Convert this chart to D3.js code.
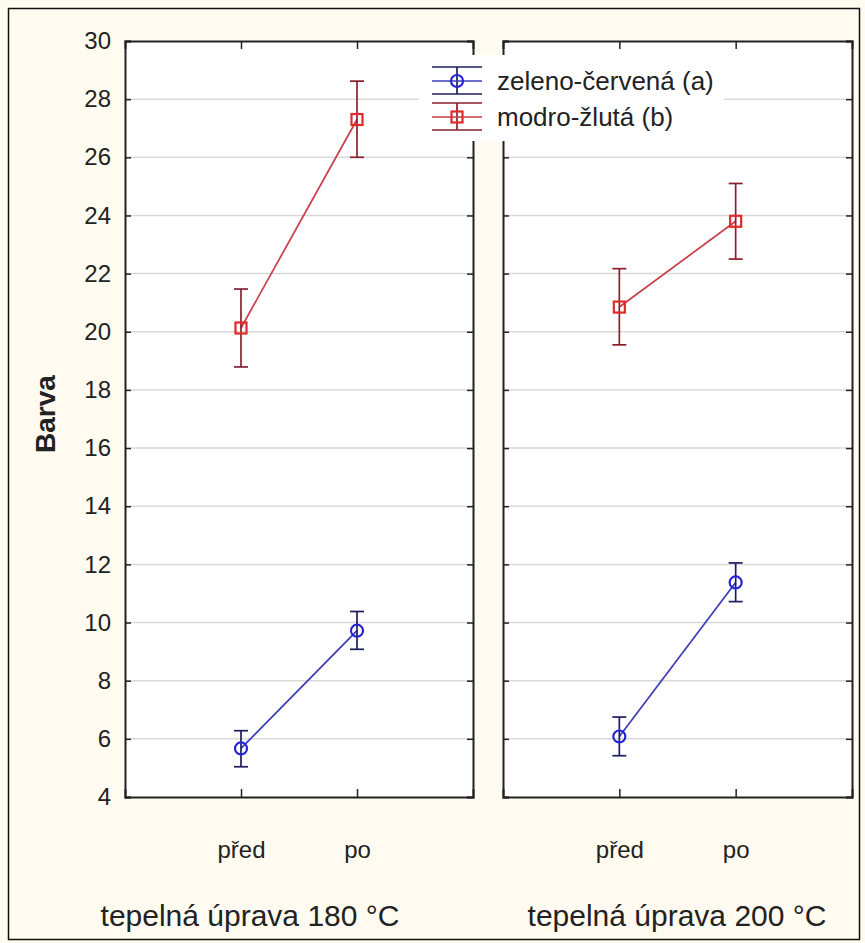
<!DOCTYPE html>
<html>
<head>
<meta charset="utf-8">
<script src="https://cdn.jsdelivr.net/npm/d3@7"></script>
<style>
  body { margin: 0; background: #fffbf0; }
  svg { display: block; }
  text { font-family: "Liberation Sans", Arial, sans-serif; fill: #222; }
</style>
</head>
<body>
<div id="chart"></div>
<script>
// Barva - mean with error bars, two panels

var categories = ["před", "po"];
var panelLabels = ["tepelná úprava 180 °C", "tepelná úprava 200 °C"];
var seriesNames = ["zeleno-červená (a)", "modro-žlutá (b)"];
var yTicks = [4, 6, 8, 10, 12, 14, 16, 18, 20, 22, 24, 26, 28, 30];

// values per panel: [před, po]
var aMean = [[5.67, 9.72], [6.08, 11.38]];
var aLow = [[5.04, 9.08], [5.42, 10.72]];
var aHigh = [[6.28, 10.38], [6.75, 12.05]];

var bMean = [[20.13, 27.3], [20.85, 23.8]];
var bLow = [[18.79, 26.0], [19.55, 22.5]];
var bHigh = [[21.47, 28.62], [22.17, 25.1]];

var svgWidth = 865;
var svgHeight = 943;
var margin = { top: 41, bottom: 146 };
var panelX = [[125, 473], [503, 852]];

var svg = d3.select("#chart")
    .append("svg")
    .attr("width", svgWidth)
    .attr("height", svgHeight);

svg.append("rect")
    .attr("x", 8.5).attr("y", 8.5)
    .attr("width", 851).attr("height", 931)
    .attr("fill", "#fffbf0")
    .attr("stroke", "#111")
    .attr("stroke-width", 1.5);

var yScale = d3.scaleLinear()
    .domain([4, 30])
    .range([svgHeight - margin.bottom, margin.top]);

var series = [
    { name: seriesNames[0], mean: aMean, low: aLow, high: aHigh, line: "#3b3bb8", mark: "#2424d8", bar: "#1d1d5e", shape: "circle" },
    { name: seriesNames[1], mean: bMean, low: bLow, high: bHigh, line: "#c93c48", mark: "#e02a2a", bar: "#8a1f2c", shape: "square" }
];

panelLabels.forEach(function(label, p) {
    var x0 = panelX[p][0], x1 = panelX[p][1];
    var xScale = d3.scalePoint()
        .domain(categories)
        .range([x0, x1])
        .padding(1);

    var g = svg.append("g");

    g.append("rect")
        .attr("x", x0).attr("y", yScale(30))
        .attr("width", x1 - x0).attr("height", yScale(4) - yScale(30))
        .attr("fill", "#fff");

    // gridlines
    g.selectAll("line.grid")
        .data(yTicks.filter(t => t > 4 && t < 30))
        .enter()
        .append("line")
        .attr("class", "grid")
        .attr("x1", x0).attr("x2", x1)
        .attr("y1", d => yScale(d)).attr("y2", d => yScale(d))
        .attr("stroke", "#d9d9d9")
        .attr("stroke-width", 1.5);

    // series lines, error bars, markers
    series.forEach(function(s) {
        var pts = categories.map(function(c, i) {
            return { c: c, m: s.mean[p][i], lo: s.low[p][i], hi: s.high[p][i] };
        });

        g.append("path")
            .datum(pts)
            .attr("fill", "none")
            .attr("stroke", s.line)
            .attr("stroke-width", 1.7)
            .attr("d", d3.line().x(d => xScale(d.c)).y(d => yScale(d.m)));

        var eb = g.append("g").selectAll("g")
            .data(pts)
            .enter()
            .append("g")
            .attr("stroke", s.bar)
            .attr("stroke-width", 1.7);
        eb.append("line")
            .attr("x1", d => xScale(d.c)).attr("x2", d => xScale(d.c))
            .attr("y1", d => yScale(d.lo)).attr("y2", d => yScale(d.hi));
        eb.append("line")
            .attr("x1", d => xScale(d.c) - 7).attr("x2", d => xScale(d.c) + 7)
            .attr("y1", d => yScale(d.lo)).attr("y2", d => yScale(d.lo));
        eb.append("line")
            .attr("x1", d => xScale(d.c) - 7).attr("x2", d => xScale(d.c) + 7)
            .attr("y1", d => yScale(d.hi)).attr("y2", d => yScale(d.hi));

        if (s.shape == "circle") {
            g.selectAll(null)
                .data(pts)
                .enter()
                .append("circle")
                .attr("cx", d => xScale(d.c))
                .attr("cy", d => yScale(d.m))
                .attr("r", 6)
                .attr("fill", "none")
                .attr("stroke", s.mark)
                .attr("stroke-width", 2.2);
        } else {
            g.selectAll(null)
                .data(pts)
                .enter()
                .append("rect")
                .attr("x", d => xScale(d.c) - 5.5)
                .attr("y", d => yScale(d.m) - 5.5)
                .attr("width", 11).attr("height", 11)
                .attr("fill", "none")
                .attr("stroke", s.mark)
                .attr("stroke-width", 2.2);
        }
    });

    // axes with inward ticks
    var left = d3.axisLeft(yScale).tickValues(yTicks).tickSize(-6).tickPadding(14);
    var right = d3.axisRight(yScale).tickValues(yTicks).tickSize(-6).tickFormat("");
    var bottom = d3.axisBottom(xScale).tickSize(-8).tickPadding(44);
    var top = d3.axisTop(xScale).tickSize(-8).tickFormat("");

    var la = g.append("g").attr("transform", `translate(${x0},0)`).call(left);
    if (p > 0) la.selectAll("text").remove();
    g.append("g").attr("transform", `translate(${x1},0)`).call(right);
    g.append("g").attr("transform", `translate(0,${yScale(4)})`).call(bottom);
    g.append("g").attr("transform", `translate(0,${yScale(30)})`).call(top);

    g.selectAll(".domain").attr("stroke", "#222").attr("stroke-width", 2);
    g.selectAll(".tick line").attr("stroke", "#222").attr("stroke-width", 1.5);
    g.selectAll(".tick text")
        .style("font-family", "'Liberation Sans', Arial, sans-serif")
        .style("font-size", "24px")
        .attr("fill", "#222");

    svg.append("text")
        .attr("x", p == 0 ? 250 : 677)
        .attr("y", 926)
        .attr("text-anchor", "middle")
        .style("font-size", "30px")
        .text(label);
});

// y axis title
svg.append("text")
    .attr("transform", "rotate(-90)")
    .attr("x", -414)
    .attr("y", 55)
    .attr("text-anchor", "middle")
    .style("font-size", "28px")
    .style("font-weight", "bold")
    .text("Barva");

// legend
var legend = svg.append("g");
legend.append("rect")
    .attr("x", 419).attr("y", 55)
    .attr("width", 305).attr("height", 86)
    .attr("fill", "#fff");

var lg = legend.selectAll("g.item")
    .data(series)
    .enter()
    .append("g")
    .attr("class", "item")
    .attr("transform", (d, i) => `translate(457,${81 + i * 36})`);

lg.append("line").attr("x1", -25).attr("x2", 25).attr("y1", -14).attr("y2", -14)
    .attr("stroke", d => d.bar).attr("stroke-width", 1.7);
lg.append("line").attr("x1", -25).attr("x2", 25).attr("y1", 13).attr("y2", 13)
    .attr("stroke", d => d.bar).attr("stroke-width", 1.7);
lg.append("line").attr("x1", 0).attr("x2", 0).attr("y1", -14).attr("y2", 13)
    .attr("stroke", d => d.bar).attr("stroke-width", 1.7);
lg.append("line").attr("x1", -25).attr("x2", 25).attr("y1", 0).attr("y2", 0)
    .attr("stroke", d => d.line).attr("stroke-width", 1.7);
lg.filter(d => d.shape == "circle").append("circle")
    .attr("r", 6).attr("fill", "none")
    .attr("stroke", d => d.mark).attr("stroke-width", 2.2);
lg.filter(d => d.shape == "square").append("rect")
    .attr("x", -5.5).attr("y", -5.5).attr("width", 11).attr("height", 11)
    .attr("fill", "none")
    .attr("stroke", d => d.mark).attr("stroke-width", 2.2);
lg.append("text")
    .attr("x", 40)
    .attr("dy", "0.35em")
    .style("font-size", "26px")
    .text(d => d.name);
</script>
</body>
</html>
